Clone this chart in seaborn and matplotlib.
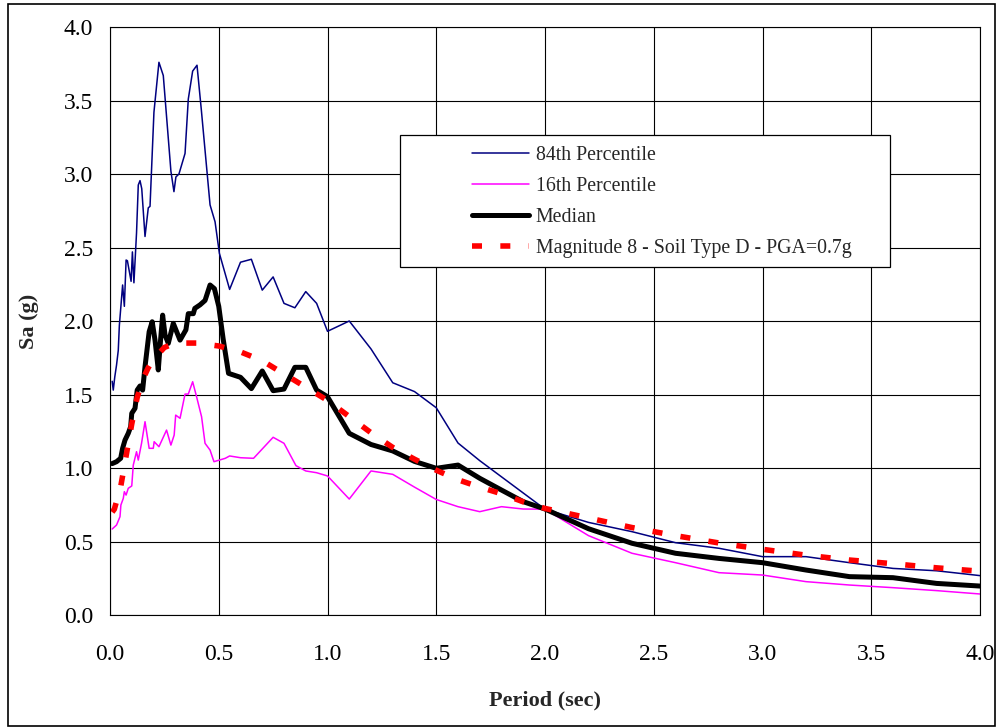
import matplotlib
matplotlib.use("Agg")
import matplotlib.pyplot as plt
from matplotlib.patches import Rectangle
import seaborn as sns
import pandas as pd

# Response spectra: period (sec) and spectral acceleration Sa (g)
period_84 = [0.01, 0.015, 0.022, 0.03, 0.038, 0.043, 0.058, 0.066, 0.074, 0.08,
             0.097, 0.103, 0.11, 0.122, 0.13, 0.138, 0.146, 0.161, 0.176, 0.184,
             0.202, 0.225, 0.245, 0.28, 0.294, 0.303, 0.317, 0.345, 0.36, 0.38,
             0.40, 0.42, 0.46, 0.483, 0.503, 0.55, 0.60, 0.65, 0.70, 0.75,
             0.80, 0.85, 0.90, 0.95, 1.0, 1.1, 1.2, 1.3, 1.4, 1.5,
             1.6, 1.7, 1.8, 1.9, 2.0, 2.2, 2.4, 2.6, 2.8, 3.0,
             3.2, 3.4, 3.6, 3.8, 4.0]
sa_84 = [1.59, 1.53, 1.62, 1.70, 1.80, 1.97, 2.245, 2.10, 2.415, 2.41,
         2.27, 2.47, 2.26, 2.60, 2.925, 2.955, 2.90, 2.575, 2.77, 2.78,
         3.42, 3.76, 3.67, 3.02, 2.88, 2.98, 3.00, 3.14, 3.51, 3.70,
         3.74, 3.435, 2.79, 2.675, 2.46, 2.215, 2.40, 2.42, 2.21, 2.30,
         2.12, 2.09, 2.20, 2.12, 1.93, 2.00, 1.81, 1.58, 1.52, 1.41,
         1.17, 1.05, 0.94, 0.83, 0.72, 0.63, 0.567, 0.492, 0.454, 0.397,
         0.397, 0.356, 0.317, 0.301, 0.268]

period_16 = [0.01, 0.03, 0.046, 0.05, 0.061, 0.066, 0.074, 0.084, 0.10, 0.107,
             0.122, 0.13, 0.145, 0.161, 0.18, 0.199, 0.203, 0.225, 0.26, 0.28,
             0.295, 0.302, 0.322, 0.345, 0.36, 0.38, 0.398, 0.421, 0.437, 0.46,
             0.478, 0.53, 0.55, 0.60, 0.66, 0.75, 0.80, 0.855, 0.90, 0.95,
             1.0, 1.1, 1.2, 1.3, 1.4, 1.5, 1.6, 1.7, 1.8, 1.9,
             2.0, 2.2, 2.4, 2.6, 2.8, 3.0, 3.2, 3.4, 3.6, 3.8, 4.0]
sa_16 = [0.585, 0.612, 0.669, 0.748, 0.793, 0.839, 0.816, 0.862, 0.878, 1.02,
         1.111, 1.054, 1.168, 1.315, 1.134, 1.134, 1.179, 1.145, 1.258, 1.156,
         1.224, 1.36, 1.338, 1.503, 1.503, 1.587, 1.485, 1.349, 1.168, 1.122,
         1.043, 1.066, 1.082, 1.07, 1.066, 1.209, 1.168, 1.016, 0.98, 0.968,
         0.946, 0.789, 0.98, 0.957, 0.87, 0.786, 0.737, 0.703, 0.737, 0.721,
         0.72, 0.54, 0.42, 0.356, 0.288, 0.272, 0.227, 0.204, 0.186, 0.166, 0.143]

period_median = [0.01, 0.03, 0.049, 0.058, 0.069, 0.084, 0.095, 0.10, 0.115, 0.125,
                 0.138, 0.15, 0.161, 0.18, 0.194, 0.207, 0.222, 0.23, 0.242, 0.253,
                 0.268, 0.291, 0.322, 0.349, 0.36, 0.383, 0.39, 0.414, 0.437, 0.46,
                 0.48, 0.50, 0.52, 0.545, 0.60, 0.65, 0.70, 0.75, 0.80, 0.85,
                 0.90, 0.95, 1.0, 1.1, 1.2, 1.3, 1.4, 1.5, 1.6, 1.7,
                 1.8, 1.9, 2.0, 2.2, 2.4, 2.6, 2.8, 3.0, 3.2, 3.4,
                 3.6, 3.8, 4.0]
sa_median = [1.03, 1.043, 1.066, 1.134, 1.19, 1.236, 1.281, 1.372, 1.406, 1.53,
             1.558, 1.53, 1.689, 1.927, 1.995, 1.87, 1.667, 1.825, 2.04, 1.905,
             1.848, 1.984, 1.87, 1.94, 2.05, 2.05, 2.086, 2.11, 2.14, 2.245,
             2.22, 2.10, 1.88, 1.644, 1.617, 1.54, 1.66, 1.526, 1.537, 1.685,
             1.685, 1.53, 1.485, 1.236, 1.16, 1.116, 1.045, 0.998, 1.02, 0.93,
             0.85, 0.771, 0.721, 0.587, 0.488, 0.42, 0.385, 0.356, 0.306, 0.261,
             0.254, 0.215, 0.197]

period_m8 = [0.01, 0.02, 0.05, 0.075, 0.10, 0.125, 0.15, 0.175, 0.20, 0.25,
             0.30, 0.40, 0.50, 0.60, 0.70, 0.80, 0.90, 1.0, 1.1, 1.2,
             1.3, 1.4, 1.5, 1.6, 1.7, 1.8, 1.9, 2.0, 2.2, 2.4,
             2.6, 2.8, 3.0, 3.2, 3.4, 3.6, 3.8, 4.0]
sa_m8 = [0.70, 0.72, 0.88, 1.09, 1.30, 1.48, 1.60, 1.68, 1.74, 1.82,
         1.85, 1.85, 1.83, 1.79, 1.73, 1.64, 1.55, 1.46, 1.35, 1.24,
         1.14, 1.06, 0.985, 0.92, 0.87, 0.825, 0.77, 0.725, 0.66, 0.595,
         0.54, 0.49, 0.447, 0.407, 0.374, 0.349, 0.321, 0.298]

labels = ["84th Percentile", "16th Percentile", "Median",
          "Magnitude 8 - Soil Type D - PGA=0.7g"]
x_ticks = [0.0, 0.5, 1.0, 1.5, 2.0, 2.5, 3.0, 3.5, 4.0]
y_ticks = [0.0, 0.5, 1.0, 1.5, 2.0, 2.5, 3.0, 3.5, 4.0]

sns.set_theme(style="white")
plt.rcParams["font.family"] = ["Liberation Serif", "DejaVu Serif"]

fig = plt.figure(figsize=(10, 7.28), dpi=100)
ax = fig.add_axes([0.11, 0.1552, 0.87, 0.8077])

series = [
    (period_84, sa_84, labels[0], dict(color="#000080", lw=1.1)),
    (period_16, sa_16, labels[1], dict(color="#FF00FF", lw=1.1)),
    (period_median, sa_median, labels[2], dict(color="black", lw=3.6)),
    (period_m8, sa_m8, labels[3], dict(color="#FF0000", lw=4.0,
                                       linestyle=(0, (1.8, 3.3)))),
]
for px, sy, name, style in series:
    df = pd.DataFrame({"Period": px, "Sa": sy})
    sns.lineplot(data=df, x="Period", y="Sa", ax=ax, estimator=None,
                 sort=False, label=name, **style)

ax.set_xlim(0, 4)
ax.set_ylim(0, 4)
ax.set_xticks(x_ticks)
ax.set_yticks(y_ticks)
ax.set_xticklabels([f"{v:.1f}" for v in x_ticks])
ax.set_yticklabels([f"{v:.1f}" for v in y_ticks])
ax.set_axisbelow(True)
ax.grid(True, color="black", lw=0.8)
for sp in ax.spines.values():
    sp.set_color("black")
    sp.set_linewidth(0.8)
ax.tick_params(axis="both", which="major", direction="out", length=6,
               width=0.8, color="black", labelsize=17, labelcolor="black")
ax.tick_params(axis="x", pad=15)
ax.tick_params(axis="y", pad=6)

ax.set_xlabel("Period (sec)", fontsize=16, fontweight="bold")
ax.set_ylabel("Sa (g)", fontsize=16, fontweight="bold")
ax.xaxis.set_label_coords(0.5, -0.128)
ax.yaxis.set_label_coords(-0.082, 0.5)

# Legend: white framed box with the entries inset from its left edge
box = Rectangle((0.3333, 0.5918), 0.5633, 0.2245, transform=ax.transAxes,
                facecolor="white", edgecolor="black", lw=0.9, zorder=4.5)
ax.add_patch(box)
leg = ax.legend(loc="upper left", bbox_to_anchor=(0.4161, 0.7975),
                frameon=False, fontsize=14.3, handlelength=2.85,
                handletextpad=0.35, labelspacing=0.6, borderpad=0,
                borderaxespad=0)
leg.set_zorder(5)

# Chart-area border
fig.add_artist(Rectangle((0.008, 0.003), 0.987, 0.991, transform=fig.transFigure,
                         fill=False, edgecolor="black", lw=1.2))

fig.savefig("out.png", dpi=100)
